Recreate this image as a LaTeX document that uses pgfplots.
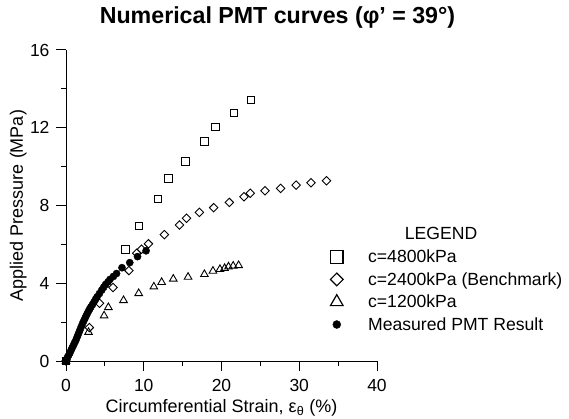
\documentclass[border=0pt]{standalone}
\usepackage{fontspec}
\setmainfont{Liberation Sans}
\usepackage{pgfplots}
\pgfplotsset{compat=1.18}
\begin{document}
\begin{tikzpicture}
\useasboundingbox (-66bp,-58bp) rectangle (503bp,361bp);
\begin{axis}[
  scale only axis, width=311bp, height=311bp,
  xmin=0, xmax=40, ymin=0, ymax=16,
  axis lines*=left,
  axis line style={line width=1bp, -},
  xtick={0,10,20,30,40}, ytick={0,4,8,12,16},
  minor xtick={5,15,25,35}, minor ytick={2,6,10,14},
  tick align=outside, major tick length=10bp, minor tick length=5bp,
  every tick/.style={line width=1bp, black},
  tick label style={font=\fontsize{17.5bp}{20bp}\selectfont},
  xticklabel style={yshift=-5bp},
  yticklabel style={xshift=-3bp},
  /pgf/number format/assume math mode=true,
  xlabel={Circumferential Strain, ε\textsubscript{θ} (\%)},
  ylabel={Applied Pressure (MPa)},
  label style={font=\fontsize{18bp}{21bp}\selectfont},
  xlabel style={at={(axis description cs:0.5,-0.151)}, anchor=center},
  ylabel style={at={(axis description cs:-0.154,0.5)}, anchor=center},
  title={Numerical PMT curves (φ’ = 39°)},
  title style={font=\bfseries\fontsize{23.2bp}{27bp}\selectfont, at={(axis description cs:0.68,1)}, anchor=center, yshift=27bp},
  clip=false,
  legend cell align=left,
  legend style={draw=none, fill=none, at={(axis description cs:0.84,0.226)}, anchor=west,
    font=\fontsize{17.6bp}{20bp}\selectfont, row sep=4.3bp, column sep=23bp},
]
% Legend images
\addlegendimage{only marks, mark=square, mark size=6.3bp, mark options={line width=1.2bp, black, fill=none}}
\addlegendentry{c=4800kPa}
\addlegendimage{only marks, mark=square, mark size=4.5bp, mark options={rotate=45, line width=1.2bp, black, fill=none}}
\addlegendentry{c=2400kPa (Benchmark)}
\addlegendimage{only marks, mark=triangle, mark size=7.3bp, mark options={line width=1.2bp, black, fill=none}}
\addlegendentry{c=1200kPa}
\addlegendimage{only marks, mark=*, mark size=4bp, mark options={black, fill=black}}
\addlegendentry{Measured PMT Result}

% c=4800kPa
\addplot[forget plot, only marks, mark=square, mark size=3.7bp, mark options={line width=0.9bp, black, fill=none}]
coordinates {(0,0) (7.65,5.74) (9.35,6.96) (11.8,8.35) (13.2,9.4) (15.35,10.27) (17.8,11.3) (19.2,12.04) (21.6,12.77) (23.75,13.43)};

% c=2400kPa
\addplot[forget plot, only marks, mark=square, mark size=3bp, mark options={rotate=45, line width=0.9bp, black, fill=none}]
coordinates {(0,0) (3.0,1.72) (4.3,2.97) (6.05,3.78) (8.1,4.65) (9.1,5.54) (9.7,5.75) (10.6,6.03) (12.65,6.5) (14.6,7.0) (15.5,7.34) (17.15,7.65) (19.0,7.89) (21.0,8.16) (22.9,8.45) (23.7,8.63) (25.6,8.76) (27.6,8.88) (29.6,9.05) (31.5,9.17) (33.5,9.27)};

% c=1200kPa
\addplot[forget plot, only marks, mark=triangle, mark size=4.4bp, mark options={line width=0.9bp, black, fill=none}]
coordinates {(0,0) (2.9,1.48) (4.9,2.33) (5.45,2.76) (7.4,3.12) (9.35,3.48) (11.3,3.82) (12.3,4.05) (13.8,4.22) (15.7,4.32) (17.8,4.46) (18.9,4.63) (19.8,4.72) (20.4,4.77) (20.9,4.85) (21.5,4.89) (22.2,4.92)};

% Measured
\addplot[forget plot, only marks, mark=*, mark size=3.6bp, mark options={black, fill=black}]
coordinates {(0,0) (0.1,0.1) (0.2,0.2) (0.35,0.3) (0.5,0.42) (0.65,0.55) (0.8,0.68) (0.95,0.8) (1.1,0.93) (1.25,1.05) (1.4,1.2) (1.55,1.35) (1.7,1.5) (1.85,1.65) (2.0,1.8) (2.15,1.95) (2.3,2.08) (2.45,2.2) (2.6,2.33) (2.75,2.45) (2.9,2.57) (3.05,2.68) (3.2,2.78) (3.4,2.9) (3.6,3.03) (3.8,3.17) (4.0,3.3) (4.3,3.47) (4.6,3.65) (4.85,3.8) (5.1,3.94) (5.4,4.07) (5.66,4.2) (6.1,4.35) (6.5,4.5) (7.2,4.8) (8.2,5.06) (9.2,5.37) (10.3,5.67)};

\node[font=\fontsize{17.6bp}{20bp}\selectfont, anchor=center] at (axis description cs:1.206,0.4116) {LEGEND};
\end{axis}
\end{tikzpicture}
\end{document}
